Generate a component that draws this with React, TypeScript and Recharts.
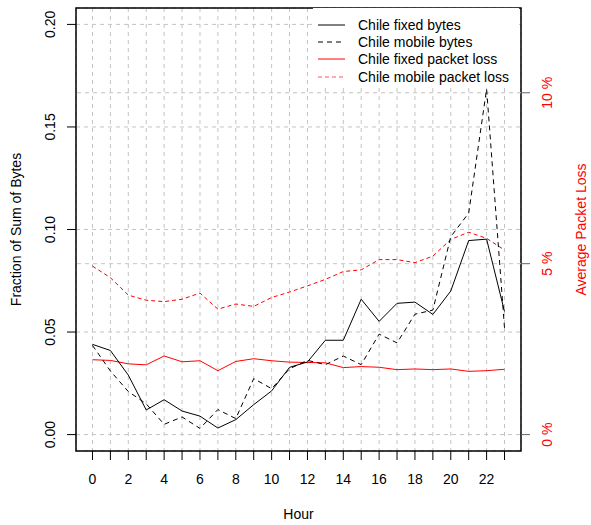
import React from "react";
import {
  LineChart,
  Line,
  XAxis,
  YAxis,
  CartesianGrid,
  ReferenceLine,
  ReferenceArea,
  Legend,
  Label,
} from "recharts";

const FONT = '"Liberation Sans", Arial, Helvetica, sans-serif';

const hours = [0, 1, 2, 3, 4, 5, 6, 7, 8, 9, 10, 11, 12, 13, 14, 15, 16, 17, 18, 19, 20, 21, 22, 23];

// fraction of sum of bytes (left axis)
const fixedBytes = [
  0.044, 0.041, 0.029, 0.012, 0.017, 0.0115, 0.009, 0.0032, 0.0073, 0.0146, 0.0213, 0.0328,
  0.0354, 0.046, 0.046, 0.066, 0.0552, 0.064, 0.0646, 0.0586, 0.07, 0.0946, 0.0953, 0.06,
];
const mobileBytes = [
  0.0435, 0.031, 0.021, 0.015, 0.005, 0.0086, 0.003, 0.0122, 0.0078, 0.0273, 0.0224, 0.0321,
  0.0362, 0.0341, 0.0383, 0.0341, 0.049, 0.0447, 0.0587, 0.0607, 0.0965, 0.108, 0.1685, 0.052,
];

// average packet loss in % (right axis)
const fixedLoss = [
  2.19, 2.17, 2.07, 2.04, 2.3, 2.13, 2.16, 1.87, 2.14, 2.22, 2.16, 2.12,
  2.11, 2.1, 1.96, 1.99, 1.97, 1.9, 1.92, 1.9, 1.92, 1.85, 1.87, 1.91,
];
const mobileLoss = [
  4.93, 4.59, 4.08, 3.93, 3.89, 3.96, 4.14, 3.67, 3.82, 3.75, 4.01, 4.17,
  4.35, 4.54, 4.77, 4.82, 5.12, 5.12, 5.03, 5.22, 5.71, 5.92, 5.74, 5.4,
];

const leftTicks = [0, 0.05, 0.1, 0.15, 0.2];
const rightTicks = [0, 5, 10];
const rightGrid = [5, 10];

const legendItems = [
  { name: "Chile fixed bytes", color: "#000", dash: undefined },
  { name: "Chile mobile bytes", color: "#000", dash: "5 4" },
  { name: "Chile fixed packet loss", color: "#ff0000", dash: undefined },
  { name: "Chile mobile packet loss", color: "#ff5555", dash: "4 3" },
];

const data = hours.map((hour, i) => ({
  hour,
  fixedBytes: fixedBytes[i],
  mobileBytes: mobileBytes[i],
  fixedLoss: fixedLoss[i],
  mobileLoss: mobileLoss[i],
}));

const GRID = "#c4c4c4";

const LeftTick = (props: any) => {
  const { y, payload } = props;
  return (
    <text
      x={55}
      y={y}
      transform={`rotate(-90 55 ${y})`}
      textAnchor="middle"
      fontSize={14}
      fontFamily={FONT}
      fill="#000"
    >
      {Number(payload.value).toFixed(2)}
    </text>
  );
};

const RightTick = (props: any) => {
  const { y, payload } = props;
  return (
    <text
      x={552}
      y={y}
      transform={`rotate(-90 552 ${y})`}
      textAnchor="middle"
      fontSize={14}
      fontFamily={FONT}
      fill="#ff0000"
    >
      {`${payload.value} %`}
    </text>
  );
};

const HourTick = (props: any) => {
  const { x, payload } = props;
  if (payload.value % 2 !== 0) return <g />;
  return (
    <text x={x} y={484} textAnchor="middle" fontSize={14} fontFamily={FONT} fill="#000">
      {payload.value}
    </text>
  );
};

const LegendBox = () => (
  <div
    style={{
      background: "#fff",
      width: 206,
      height: 78,
      paddingTop: 8,
      boxSizing: "border-box",
      fontFamily: FONT,
      fontSize: 14,
    }}
  >
    {legendItems.map((item) => (
      <div
        key={item.name}
        style={{ display: "flex", alignItems: "center", height: 17.4, whiteSpace: "nowrap" }}
      >
        <svg width={45} height={10} style={{ flex: "none" }}>
          <line
            x1={5}
            x2={32}
            y1={5}
            y2={5}
            stroke={item.color}
            strokeWidth={1}
            strokeDasharray={item.dash}
          />
        </svg>
        <span style={{ color: "#000" }}>{item.name}</span>
      </div>
    ))}
  </div>
);

export default function App() {
  return (
    <div style={{ position: "absolute", left: 0, top: 0, background: "#fff" }}>
      <LineChart width={591} height={525} data={data} margin={{ top: 8, right: 0, bottom: 0, left: 0 }}>
        <CartesianGrid yAxisId="left" stroke={GRID} strokeDasharray="4 4" />
        {rightGrid.map((v) => (
          <ReferenceLine key={v} yAxisId="right" y={v} stroke={GRID} strokeDasharray="4 4" />
        ))}
        <XAxis
          dataKey="hour"
          type="number"
          domain={[-0.92, 23.92]}
          ticks={hours}
          interval={0}
          height={74}
          tickSize={9}
          axisLine={false}
          tickLine={{ stroke: "#000" }}
          tick={HourTick}
          allowDataOverflow
        >
          <Label
            content={(p: any) => {
              const vb = p.viewBox;
              return (
                <text
                  x={vb.x + vb.width / 2}
                  y={519}
                  textAnchor="middle"
                  fontSize={14}
                  fontFamily={FONT}
                  fill="#000"
                >
                  Hour
                </text>
              );
            }}
          />
        </XAxis>
        <YAxis
          yAxisId="left"
          type="number"
          domain={[-0.008, 0.208]}
          ticks={leftTicks}
          width={76}
          tickSize={9}
          axisLine={false}
          tickLine={{ stroke: "#000" }}
          tick={LeftTick}
          allowDataOverflow
        >
          <Label
            content={(p: any) => {
              const vb = p.viewBox;
              const cy = vb.y + vb.height / 2;
              return (
                <text
                  x={21}
                  y={cy}
                  transform={`rotate(-90 21 ${cy})`}
                  textAnchor="middle"
                  fontSize={14}
                  fontFamily={FONT}
                  fill="#000"
                >
                  Fraction of Sum of Bytes
                </text>
              );
            }}
          />
        </YAxis>
        <YAxis
          yAxisId="right"
          orientation="right"
          type="number"
          domain={[-0.48, 12.48]}
          ticks={rightTicks}
          width={70}
          tickSize={9}
          axisLine={false}
          tickLine={{ stroke: "#666" }}
          tick={RightTick}
          allowDataOverflow
        >
          <Label
            content={(p: any) => {
              const vb = p.viewBox;
              const cy = vb.y + vb.height / 2;
              return (
                <text
                  x={586}
                  y={cy}
                  transform={`rotate(-90 586 ${cy})`}
                  textAnchor="middle"
                  fontSize={14}
                  fontFamily={FONT}
                  fill="#ff0000"
                >
                  Average Packet Loss
                </text>
              );
            }}
          />
        </YAxis>
        <Line
          yAxisId="right"
          dataKey="mobileLoss"
          stroke="#ff0000"
          strokeDasharray="4 3"
          strokeWidth={1}
          dot={false}
          type="linear"
          isAnimationActive={false}
        />
        <Line
          yAxisId="right"
          dataKey="fixedLoss"
          stroke="#ff0000"
          strokeWidth={1}
          dot={false}
          type="linear"
          isAnimationActive={false}
        />
        <Line
          yAxisId="left"
          dataKey="mobileBytes"
          stroke="#000"
          strokeDasharray="5 4"
          strokeWidth={1}
          dot={false}
          type="linear"
          isAnimationActive={false}
        />
        <Line
          yAxisId="left"
          dataKey="fixedBytes"
          stroke="#000"
          strokeWidth={1}
          dot={false}
          type="linear"
          isAnimationActive={false}
        />
        <ReferenceArea
          yAxisId="left"
          x1={-0.92}
          x2={23.92}
          y1={-0.008}
          y2={0.208}
          fill="none"
          fillOpacity={0}
          stroke="#000"
          strokeWidth={1.5}
          ifOverflow="visible"
        />
        <Legend
          layout="vertical"
          align="center"
          verticalAlign="middle"
          wrapperStyle={{ position: "absolute", left: 313, top: 8, width: 206 }}
          content={LegendBox}
        />
      </LineChart>
    </div>
  );
}
